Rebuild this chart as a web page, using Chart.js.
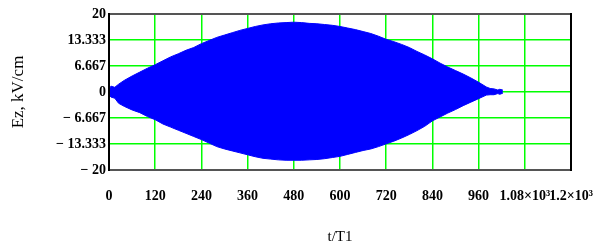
<!DOCTYPE html>
<html>
<head>
<meta charset="utf-8">
<script src="https://cdn.jsdelivr.net/npm/chart.js@4/dist/chart.umd.min.js"></script>
<style>
  html, body { margin: 0; padding: 0; background: #fff; }
  #wrap { width: 595px; height: 251px; position: relative; }
</style>
</head>
<body>
<div id="wrap"><canvas id="c" width="595" height="251"></canvas></div>
<script>
// Time samples (t/T1) along the envelope
const tValues = [0, 5, 15, 25, 40, 60, 80, 100, 120, 140, 160, 180, 200, 220, 240, 260, 280, 300, 320, 340, 360, 380, 400, 420, 440, 460, 480, 500, 520, 540, 560, 580, 600, 620, 640, 660, 680, 700, 720, 740, 760, 780, 800, 820, 840, 860, 880, 900, 920, 940, 960, 980, 990, 1000, 1010, 1015, 1023];
// Upper envelope of Ez (kV/cm)
const ezUpper = [0.6, 1.5, 1.2, 2.0, 3.0, 4.1, 5.1, 6.1, 7.0, 8.0, 9.0, 9.8, 10.7, 11.4, 12.4, 13.2, 14.0, 14.6, 15.2, 15.8, 16.3, 16.8, 17.2, 17.5, 17.7, 17.8, 17.9, 17.8, 17.6, 17.5, 17.3, 17.1, 16.8, 16.4, 16.0, 15.5, 15.0, 14.3, 13.5, 12.9, 12.2, 11.4, 10.4, 9.5, 8.5, 7.4, 6.4, 5.5, 4.6, 3.6, 2.5, 1.3, 0.9, 0.8, 0.5, 0.7, 0.5];
// Lower envelope of Ez (kV/cm)
const ezLower = [-0.6, -1.3, -1.6, -2.9, -3.7, -4.6, -5.3, -6.3, -7.1, -8.2, -9.0, -9.8, -10.6, -11.4, -12.2, -13.1, -14.0, -14.6, -15.1, -15.6, -16.1, -16.6, -17.0, -17.2, -17.4, -17.5, -17.5, -17.5, -17.4, -17.3, -17.1, -16.8, -16.5, -16.0, -15.5, -15.0, -14.6, -14.0, -13.3, -12.6, -11.8, -10.9, -9.9, -8.8, -7.4, -6.4, -5.4, -4.5, -3.5, -2.6, -1.7, -0.8, -0.7, -0.7, -0.4, -0.6, -0.3];
// Tick values and labels
const yTickValues = [-20, -13.333, -6.667, 0, 6.667, 13.333, 20];
const yTickLabels = ["\u2212 20", "\u2212 13.333", "\u2212 6.667", "0", "6.667", "13.333", "20"];
const xTickValues = [0, 120, 240, 360, 480, 600, 720, 840, 960, 1080, 1200];
const xTickLabels = ["0", "120", "240", "360", "480", "600", "720", "840", "960", "1.08\u00d710\u00b3", "1.2\u00d710\u00b3"];

const lowerPts = tValues.map((t, i) => ({x: t, y: ezLower[i]}));
const upperPts = tValues.map((t, i) => ({x: t, y: ezUpper[i]}));

const frame = {
  id: 'frame',
  afterDraw(chart) {
    const {ctx, chartArea: a} = chart;
    ctx.save();
    ctx.lineWidth = 2;
    ctx.strokeStyle = '#555';
    ctx.beginPath(); ctx.moveTo(a.left, a.top); ctx.lineTo(a.right, a.top); ctx.stroke();
    ctx.beginPath(); ctx.moveTo(a.left, a.bottom); ctx.lineTo(a.right, a.bottom); ctx.stroke();
    ctx.strokeStyle = '#000';
    ctx.beginPath(); ctx.moveTo(a.left, a.top - 1); ctx.lineTo(a.left, a.bottom + 1); ctx.stroke();
    ctx.beginPath(); ctx.moveTo(a.right, a.top - 1); ctx.lineTo(a.right, a.bottom + 1); ctx.stroke();
    ctx.restore();
  }
};

new Chart(document.getElementById('c'), {
  type: 'line',
  data: {
    datasets: [
      { data: lowerPts, borderColor: '#0000ff', borderWidth: 1, pointRadius: 0, fill: false, tension: 0 },
      { data: upperPts, borderColor: '#0000ff', borderWidth: 1, pointRadius: 0, fill: '-1', backgroundColor: '#0000ff', tension: 0 }
    ]
  },
  options: {
    responsive: false,
    animation: false,
    events: [],
    layout: { padding: { top: 14, right: 24, left: 0, bottom: 0 } },
    plugins: { legend: { display: false }, tooltip: { enabled: false } },
    scales: {
      x: {
        type: 'linear', min: 0, max: 1200,
        afterBuildTicks(axis) { axis.ticks = xTickValues.map(v => ({value: v})); },
        afterFit(axis) { axis.height = 81; axis.paddingLeft = 0; axis.paddingRight = 0; },
        grid: { color: '#00ff00', lineWidth: 1.5, drawTicks: false, drawOnChartArea: true },
        border: { display: false },
        ticks: {
          padding: 18, maxRotation: 0, autoSkip: false,
          color: '#000',
          font: { family: 'Liberation Serif', size: 14, weight: 'bold' },
          callback(v) { const i = xTickValues.indexOf(v); return i >= 0 ? xTickLabels[i] : ''; }
        },
        title: { display: true, text: 't/T1', color: '#000', padding: { top: 0, bottom: 5 },
                 font: { family: 'Liberation Serif', size: 15 } }
      },
      y: {
        type: 'linear', min: -20, max: 20,
        afterBuildTicks(axis) { axis.ticks = yTickValues.map(v => ({value: v})); },
        afterFit(axis) { axis.width = 109; axis.paddingTop = 0; axis.paddingBottom = 0; },
        grid: { color: '#00ff00', lineWidth: 1.5, drawTicks: false },
        border: { display: false },
        ticks: {
          padding: 3, autoSkip: false,
          color: '#000',
          font: { family: 'Liberation Serif', size: 14, weight: 'bold' },
          callback(v) { const i = yTickValues.indexOf(v); return i >= 0 ? yTickLabels[i] : ''; }
        },
        title: { display: true, text: 'Ez, kV/cm', color: '#000', padding: { top: 8, bottom: 0 },
                 font: { family: 'Liberation Serif', size: 17 } }
      }
    }
  },
  plugins: [frame]
});
</script>
</body>
</html>
